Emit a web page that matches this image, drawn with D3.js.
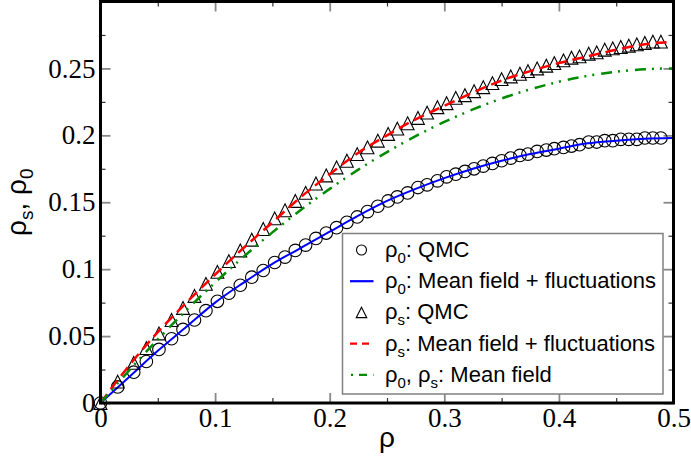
<!DOCTYPE html>
<html>
<head>
<meta charset="utf-8">
<script src="https://cdn.jsdelivr.net/npm/d3@7"></script>
<style>
  body { margin: 0; background: #fff; }
  svg { display: block; }
</style>
</head>
<body>
<div id="chart"></div>
<script>
// QMC sample densities (x) shared by both QMC sets
var qmcRho = [0, 0.015, 0.029, 0.040, 0.051, 0.062, 0.072, 0.082, 0.092, 0.102, 0.112, 0.122,
  0.132, 0.142, 0.152, 0.161, 0.170, 0.179, 0.188, 0.197, 0.206, 0.215, 0.224, 0.233, 0.242,
  0.251, 0.259, 0.268, 0.277, 0.285, 0.294, 0.302, 0.310, 0.318, 0.326, 0.334, 0.342, 0.350,
  0.358, 0.366, 0.373, 0.381, 0.389, 0.396, 0.404, 0.411, 0.418, 0.426, 0.433, 0.440, 0.447,
  0.454, 0.461, 0.468, 0.475, 0.482, 0.489];

// rho_0 from QMC (circles)
var qmcRho0 = [0, 0.012, 0.023, 0.031, 0.040, 0.048, 0.055, 0.062, 0.069, 0.076, 0.082, 0.088,
  0.094, 0.099, 0.105, 0.109, 0.114, 0.118, 0.123, 0.127, 0.131, 0.135, 0.139, 0.143, 0.147,
  0.151, 0.154, 0.157, 0.161, 0.163, 0.166, 0.169, 0.171, 0.173, 0.175, 0.177, 0.179, 0.181,
  0.183, 0.185, 0.186, 0.188, 0.189, 0.190, 0.191, 0.192, 0.193, 0.195, 0.195, 0.196, 0.196,
  0.197, 0.197, 0.197, 0.198, 0.198, 0.198];

// rho_s from QMC (triangles)
var qmcRhoS = [0, 0.016, 0.030, 0.041, 0.052, 0.062, 0.071, 0.080, 0.089, 0.098, 0.106, 0.114,
  0.122, 0.130, 0.138, 0.144, 0.151, 0.157, 0.164, 0.170, 0.176, 0.181, 0.186, 0.191, 0.196,
  0.201, 0.205, 0.209, 0.213, 0.217, 0.221, 0.224, 0.228, 0.230, 0.233, 0.236, 0.239, 0.242,
  0.244, 0.246, 0.248, 0.250, 0.252, 0.254, 0.256, 0.258, 0.259, 0.261, 0.262, 0.264, 0.265,
  0.266, 0.267, 0.268, 0.269, 0.270, 0.270];

// theory curves
var curveRho = [0, 0.025, 0.05, 0.075, 0.1, 0.125, 0.15, 0.175, 0.2, 0.225, 0.25, 0.275, 0.3,
  0.325, 0.35, 0.375, 0.4, 0.425, 0.45, 0.475, 0.5];
var fluctRho0 = [0, 0.0195, 0.039, 0.057, 0.075, 0.090, 0.104, 0.116, 0.128, 0.140, 0.151,
  0.160, 0.168, 0.175, 0.181, 0.186, 0.190, 0.194, 0.196, 0.1975, 0.198];
var fluctRhoS = [0, 0.028, 0.053, 0.075, 0.096, 0.116, 0.135, 0.154, 0.171, 0.187, 0.200,
  0.212, 0.222, 0.232, 0.241, 0.248, 0.254, 0.259, 0.264, 0.268, 0.270];
var meanField = [0, 0.0244, 0.0475, 0.0694, 0.09, 0.1094, 0.1275, 0.1444, 0.16, 0.1744, 0.1875,
  0.1994, 0.21, 0.2194, 0.2275, 0.2344, 0.24, 0.2444, 0.2475, 0.2494, 0.25];

var xMajor = [0, 0.1, 0.2, 0.3, 0.4, 0.5];
var xMinor = [0.05, 0.15, 0.25, 0.35, 0.45];
var yMajor = [0, 0.05, 0.1, 0.15, 0.2, 0.25];
var yMinor = [0.025, 0.075, 0.125, 0.175, 0.225, 0.275];

var svgWidth = 691, svgHeight = 462;
var margin = { top: 1.5, right: 17.5, bottom: 59, left: 100.5 };
var chartWidth = svgWidth - margin.left - margin.right;
var chartHeight = svgHeight - margin.top - margin.bottom;

var svg = d3.select('#chart').append('svg')
  .attr('width', svgWidth)
  .attr('height', svgHeight);

var chartGroup = svg.append('g')
  .attr('transform', `translate(${margin.left}, ${margin.top})`);

var xScale = d3.scaleLinear().domain([0, 0.5]).range([0, chartWidth]);
var yScale = d3.scaleLinear().domain([0, 0.3]).range([chartHeight, 0]);

var tickFmt = d => d === 0 ? '0' : d3.format('')(+d.toFixed(3));

// ticks, inward on all four sides
function styleAxis(g, color, width) {
  g.select('.domain').remove();
  g.selectAll('line').attr('stroke', color).attr('stroke-width', width);
  g.selectAll('text')
    .attr('fill', '#000')
    .style('font-family', '"Liberation Serif", "Times New Roman", serif')
    .style('font-size', '27px');
}

chartGroup.append('g').attr('transform', `translate(0, ${chartHeight})`)
  .call(d3.axisBottom(xScale).tickValues(xMinor).tickSize(-5).tickFormat(''))
  .call(g => styleAxis(g, '#333', 1.2));
chartGroup.append('g').attr('transform', `translate(0, ${chartHeight})`)
  .call(d3.axisBottom(xScale).tickValues(xMajor).tickSize(-10).tickPadding(5).tickFormat(tickFmt))
  .call(g => styleAxis(g, '#888', 1.8));
chartGroup.append('g')
  .call(d3.axisTop(xScale).tickValues(xMinor).tickSize(-5).tickFormat(''))
  .call(g => styleAxis(g, '#333', 1.2));
chartGroup.append('g')
  .call(d3.axisTop(xScale).tickValues(xMajor).tickSize(-10).tickFormat(''))
  .call(g => styleAxis(g, '#888', 1.8));

chartGroup.append('g')
  .call(d3.axisLeft(yScale).tickValues(yMinor).tickSize(-5).tickFormat(''))
  .call(g => styleAxis(g, '#333', 1.2));
chartGroup.append('g')
  .call(d3.axisLeft(yScale).tickValues(yMajor).tickSize(-10).tickPadding(5).tickFormat(tickFmt))
  .call(g => styleAxis(g, '#888', 1.8));
chartGroup.append('g').attr('transform', `translate(${chartWidth}, 0)`)
  .call(d3.axisRight(yScale).tickValues(yMinor).tickSize(-5).tickFormat(''))
  .call(g => styleAxis(g, '#333', 1.2));
chartGroup.append('g').attr('transform', `translate(${chartWidth}, 0)`)
  .call(d3.axisRight(yScale).tickValues(yMajor).tickSize(-10).tickFormat(''))
  .call(g => styleAxis(g, '#888', 1.8));

// build point tables
var circlePts = qmcRho.map((r, i) => ({ x: r, y: qmcRho0[i] }));
var trianglePts = qmcRho.map((r, i) => ({ x: r, y: qmcRhoS[i] }));
var blueLine = curveRho.map((r, i) => ({ x: r, y: fluctRho0[i] }));
var redLine = curveRho.map((r, i) => ({ x: r, y: fluctRhoS[i] }));
var greenLine = curveRho.map((r, i) => ({ x: r, y: meanField[i] }));

var line = d3.line()
  .x(d => xScale(d.x))
  .y(d => yScale(d.y))
  .curve(d3.curveMonotoneX);

// grace-style triangle: as tall as it is wide
var graceTriangle = {
  draw: function (context, size) {
    var h = Math.sqrt(size);
    context.moveTo(0, -h / 2);
    context.lineTo(h / 2, h / 2);
    context.lineTo(-h / 2, h / 2);
    context.closePath();
  }
};
var triSym = d3.symbol().type(graceTriangle).size(165);

// circles (rho_0 QMC)
chartGroup.selectAll('circle.qmc0')
  .data(circlePts)
  .enter()
  .append('circle')
  .attr('class', 'qmc0')
  .attr('cx', d => xScale(d.x))
  .attr('cy', d => yScale(d.y))
  .attr('r', 6.3)
  .attr('fill', 'none')
  .attr('stroke', '#000')
  .attr('stroke-width', 1.1);

chartGroup.append('path')
  .datum(blueLine)
  .attr('d', line)
  .attr('fill', 'none')
  .attr('stroke', '#0000ff')
  .attr('stroke-width', 2);

// triangles (rho_s QMC)
chartGroup.selectAll('path.qmcs')
  .data(trianglePts)
  .enter()
  .append('path')
  .attr('class', 'qmcs')
  .attr('d', triSym)
  .attr('transform', d => `translate(${xScale(d.x)}, ${yScale(d.y)})`)
  .attr('fill', 'none')
  .attr('stroke', '#000')
  .attr('stroke-width', 1.1);

chartGroup.append('path')
  .datum(redLine)
  .attr('d', line)
  .attr('fill', 'none')
  .attr('stroke', '#ff0000')
  .attr('stroke-width', 2.5)
  .attr('stroke-dasharray', '11,6');

chartGroup.append('path')
  .datum(greenLine)
  .attr('d', line)
  .attr('fill', 'none')
  .attr('stroke', '#008b00')
  .attr('stroke-width', 2.5)
  .attr('stroke-dasharray', '11,6,2,6,2,7');

// frame
chartGroup.append('rect')
  .attr('x', 0).attr('y', 0)
  .attr('width', chartWidth).attr('height', chartHeight)
  .attr('fill', 'none')
  .attr('stroke', '#000')
  .attr('stroke-width', 3);

// legend
var legend = svg.append('g');
legend.append('rect')
  .attr('x', 342.5).attr('y', 233.5)
  .attr('width', 320.5).attr('height', 160.5)
  .attr('fill', '#fff')
  .attr('stroke', '#808080')
  .attr('stroke-width', 1.5);

var legendItems = [
  { parts: [['ρ', 0], ['0', 1], [': QMC', 0]], kind: 'circle' },
  { parts: [['ρ', 0], ['0', 1], [': Mean field + fluctuations', 0]], kind: 'blue' },
  { parts: [['ρ', 0], ['s', 1], [': QMC', 0]], kind: 'triangle' },
  { parts: [['ρ', 0], ['s', 1], [': Mean field + fluctuations', 0]], kind: 'red' },
  { parts: [['ρ', 0], ['0', 1], [', ρ', 0], ['s', 1], [': Mean field', 0]], kind: 'green' }
];

legendItems.forEach(function (item, i) {
  var cy = 250 + i * 31.2;
  if (item.kind === 'circle') {
    legend.append('circle').attr('cx', 361.5).attr('cy', cy).attr('r', 5)
      .attr('fill', 'none').attr('stroke', '#000').attr('stroke-width', 1.1);
  } else if (item.kind === 'triangle') {
    legend.append('path').attr('d', d3.symbol().type(graceTriangle).size(110)())
      .attr('transform', `translate(361.5, ${cy})`)
      .attr('fill', 'none').attr('stroke', '#000').attr('stroke-width', 1.1);
  } else {
    var color = { blue: '#0000ff', red: '#ff0000', green: '#008b00' }[item.kind];
    var dash = { blue: null, red: '7,5', green: '2,6,8,6' }[item.kind];
    legend.append('line')
      .attr('x1', item.kind === 'green' ? 351 : 350).attr('x2', 373.5)
      .attr('y1', cy).attr('y2', cy)
      .attr('stroke', color).attr('stroke-width', 2.2)
      .attr('stroke-dasharray', dash);
  }
  var t = legend.append('text')
    .attr('x', 385).attr('y', cy + 7)
    .style('font-family', '"Liberation Sans", Arial, sans-serif')
    .style('font-size', '22px')
    .attr('fill', '#000');
  var shifted = false;
  item.parts.forEach(function (p) {
    var ts = t.append('tspan').text(p[0]);
    if (p[1]) {
      ts.attr('dy', 6).style('font-size', '15px');
      shifted = true;
    } else if (shifted) {
      ts.attr('dy', -6);
      shifted = false;
    }
  });
});

// axis titles
svg.append('text')
  .attr('x', margin.left + chartWidth / 2)
  .attr('y', 447)
  .attr('text-anchor', 'middle')
  .style('font-family', '"Liberation Sans", Arial, sans-serif')
  .style('font-size', '28px')
  .text('ρ');

var yTitle = svg.append('text')
  .attr('transform', `translate(26, ${margin.top + chartHeight / 2}) rotate(-90)`)
  .attr('text-anchor', 'middle')
  .style('font-family', '"Liberation Sans", Arial, sans-serif')
  .style('font-size', '28px');
yTitle.append('tspan').text('ρ');
yTitle.append('tspan').attr('dy', 7).style('font-size', '19px').text('s');
yTitle.append('tspan').attr('dy', -7).text(', ρ');
yTitle.append('tspan').attr('dy', 7).style('font-size', '19px').text('0');
</script>
</body>
</html>
